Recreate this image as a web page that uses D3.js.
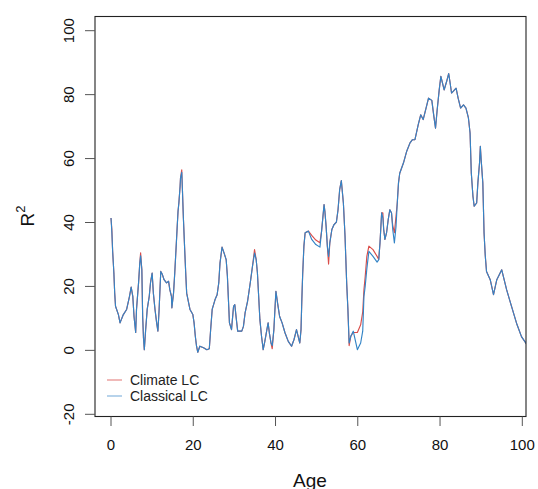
<!DOCTYPE html>
<html lang="en">
<head>
<meta charset="UTF-8">
<title>R2 by age</title>
<script src="https://d3js.org/d3.v7.min.js"></script>
<style>
  body { margin: 0; background: #fff; }
  svg { display: block; font-family: 'Liberation Sans', Arial, sans-serif; }
  .tick-label { font-size: 15px; fill: #111; }
  .axis-title { font-size: 19px; fill: #111; }
  .legend-text { font-size: 14px; fill: #222; }
</style>
</head>
<body>
<svg width="538" height="489"></svg>
<script>
// ages (irregular steps)
const ages = [0, 0.2, 0.4, 0.7, 0.9, 1.1, 1.8, 2.2, 3.0, 3.8, 4.5, 4.9, 5.3, 5.6, 6.0, 6.2, 6.7, 7.0, 7.2, 7.5,
  7.7, 7.9, 8.1, 8.4, 8.8, 9.3, 9.6, 10.0, 10.3, 10.7, 11.1, 11.4, 11.7, 12.1, 12.5, 12.9, 13.5, 14.0, 14.3, 14.7,
  14.8, 15.2, 15.5, 15.8, 16.1, 16.3, 16.5, 16.8, 16.9, 17.2, 17.35, 17.6, 17.9, 18.2, 18.4, 18.8, 19.2, 19.9, 20.2, 20.5,
  20.8, 21.1, 21.6, 22.5, 23.3, 23.9, 24.2, 24.6, 25.3, 25.8, 26.2, 26.5, 27.0, 27.5, 28.0, 28.3, 28.8, 29.3, 29.8, 30.1,
  30.4, 30.8, 31.8, 32.2, 32.6, 33.2, 33.9, 34.4, 34.9, 35.3, 35.6, 35.9, 36.2, 36.6, 37.0, 37.4, 37.9, 38.2, 38.5, 38.9,
  39.2, 39.6, 39.9, 40.1, 40.5, 41.0, 41.6, 42.3, 43.1, 43.9, 44.5, 45.1, 45.5, 45.9, 46.2, 46.4, 46.6, 46.9, 47.2, 48.0,
  48.8, 49.8, 50.8, 51.2, 51.8, 52.0, 52.3, 52.6, 52.9, 53.2, 53.7, 54.2, 54.8, 55.2, 55.6, 56.0, 56.5, 56.9, 57.3, 57.6,
  57.9, 58.3, 58.9, 59.9, 60.7, 61.2, 61.5, 61.8, 62.2, 62.7, 63.7, 64.7, 65.1, 65.4, 65.8, 66.1, 66.3, 66.6, 67.0, 67.4,
  67.8, 68.2, 68.5, 68.9, 69.3, 69.6, 69.9, 70.2, 71.1, 71.9, 72.7, 73.3, 73.9, 74.7, 75.3, 75.9, 76.6, 77.2, 78.0, 78.5,
  78.9, 79.3, 79.8, 80.2, 80.6, 81.0, 81.6, 82.1, 82.4, 82.8, 83.2, 83.9, 84.4, 85.0, 85.7, 86.3, 86.9, 87.3, 87.6, 88.0,
  88.3, 88.9, 89.2, 89.6, 89.8, 90.0, 90.4, 90.7, 91.0, 91.3, 92.2, 93.0, 93.8, 95.0, 96.2, 97.4, 98.6, 99.8, 101];

const classical = [41.4, 37.2, 31, 24.2, 17.9, 13.8, 11.2, 8.6, 11.2, 12.8, 16.9, 19.8, 16.9, 10.6, 5.6, 12.8, 21.1, 27.3, 29.6, 25.2,
  10.6, 3.9, 0.2, 6, 12.8, 16.9, 21.1, 24.2, 17.9, 12.8, 8.6, 6, 12.8, 24.7, 23.7, 22.1, 21.1, 21.6, 19, 16.9,
  13.3, 17.9, 24.2, 31.5, 38.8, 43.5, 46.1, 51.3, 53.9, 55.7, 50.8, 41.4, 32, 23.2, 17.9, 15.3, 12.8, 11.2, 8.6, 4.4,
  1.3, -0.6, 1.3, 0.8, 0.2, 0.5, 6, 12.8, 15.9, 17.4, 21.1, 27.3, 32.3, 30.4, 28.4, 23.2, 8.6, 6.5, 13.8, 14.3,
  10.6, 6, 6, 7.5, 11.7, 15.3, 21.5, 26.3, 30.4, 28.4, 24.2, 16.9, 9.6, 4.4, 0.2, 2.8, 6.5, 8.6, 5.5, 2.3,
  1.5, 6.5, 13.8, 18.5, 14.8, 10.6, 8.6, 5.5, 2.8, 1.3, 3.4, 6.5, 4.4, 2.3, 6.5, 15.9, 23.7, 32.6, 36.8, 37.3,
  34.7, 33.1, 32.3, 37.3, 45.6, 43.5, 38.8, 32.6, 29.4, 33.6, 37.8, 39.3, 40.1, 44.0, 50.3, 53.1, 46.1, 35.7, 21.1, 12.8,
  2.3, 4.4, 6.0, 0.2, 2.3, 6, 16.9, 20, 25.5, 31, 29.4, 27.6, 28.4, 33.6, 43, 41.4, 37.8, 34.7, 36.8, 40.9,
  44.0, 43, 37.8, 33.6, 38.8, 46.1, 52.4, 55.4, 58.6, 62.3, 64.9, 65.9, 65.9, 70.6, 73.7, 72.2, 75.8, 78.9, 78.2, 73.2,
  69.5, 75.2, 81.5, 85.7, 83.6, 81.5, 84.1, 86.6, 84.1, 80.5, 81, 82, 78.9, 75.8, 76.8, 75.8, 72.7, 68, 55.5, 48.2,
  45.1, 46.1, 52.4, 58.6, 63.8, 59.6, 52.4, 36.8, 29.5, 24.7, 22.1, 17.4, 22.1, 25.2, 18.9, 13.7, 8.5, 4.3, 2.0];

const climate = [41.4, 38, 31, 24.2, 17.9, 13.8, 11.2, 8.6, 11.2, 12.8, 16.9, 19.8, 16.9, 10.6, 5.6, 12.8, 21.1, 27.3, 30.5, 25.2,
  10.6, 3.9, 0.2, 6, 12.8, 16.9, 21.1, 24.2, 17.9, 12.8, 8.6, 6, 12.8, 24.7, 23.7, 22.1, 21.1, 21.6, 19, 16.9,
  13.3, 17.9, 24.2, 31.5, 38.8, 43.5, 46.1, 51.3, 53.9, 56.5, 50.8, 41.4, 32, 23.2, 17.9, 15.3, 12.8, 11.2, 8.6, 4.4,
  1.3, -0.6, 1.3, 0.8, 0.2, 0.5, 6, 12.8, 15.9, 17.4, 21.1, 27.3, 32.3, 30.4, 28.4, 23.2, 8.6, 6.5, 13.8, 14.3,
  10.6, 6, 6, 7.5, 11.7, 15.3, 21.5, 26.3, 31.5, 28.4, 24.2, 16.9, 9.6, 4.4, 0.2, 2.8, 6.5, 8.6, 5.5, 2.3,
  0.5, 6.5, 13.8, 18.5, 14.8, 10.6, 8.6, 5.5, 2.8, 1.3, 3.4, 6.5, 4.4, 2.3, 6.5, 15.9, 23.7, 32.6, 36.8, 37.3,
  36, 34.5, 33.7, 37.3, 45.6, 43.5, 38.8, 32.6, 27, 33.6, 37.8, 39.3, 40.1, 44.0, 50.3, 53.1, 46.1, 35.7, 21.1, 12.8,
  1.5, 4.4, 5.6, 5.6, 8, 12, 19, 23, 29.4, 32.6, 31.5, 29.4, 28.4, 33.6, 43, 43, 37.8, 34.7, 36.8, 40.9,
  44.0, 43, 39, 36.8, 42, 46.1, 52.4, 55.4, 58.6, 62.3, 64.9, 65.9, 65.9, 70.6, 73.7, 72.2, 75.8, 78.9, 78.2, 73.2,
  69.5, 75.2, 81.5, 85.7, 83.6, 81.5, 84.1, 86.6, 84.1, 80.5, 81, 82, 78.9, 75.8, 76.8, 75.8, 72.7, 68, 55.5, 48.2,
  45.1, 46.1, 52.4, 58.6, 63.8, 59.6, 52.4, 36.8, 29.5, 24.7, 22.1, 17.4, 22.1, 25.2, 18.9, 13.7, 8.5, 4.3, 2.0];

const xTicks = [0, 20, 40, 60, 80, 100];
const yTicks = [-20, 0, 20, 40, 60, 80, 100];
const seriesNames = ["Climate LC", "Classical LC"];
const seriesColors = ["#d63a36", "#3384c6"];

const svg = d3.select("svg");
const box = { left: 95, right: 526, top: 16.5, bottom: 416.5 };

const x = d3.scaleLinear().domain([0, 100]).range([111, 522.3]);
const y = d3.scaleLinear().domain([-20, 100]).range([414.3, 30.7]);

svg.append("clipPath").attr("id", "plotclip")
  .append("rect")
  .attr("x", box.left).attr("y", box.top)
  .attr("width", box.right - box.left).attr("height", box.bottom - box.top);

const line = d3.line()
  .x((d, i) => x(ages[i]))
  .y(d => y(d));

const gLines = svg.append("g").attr("clip-path", "url(#plotclip)");
[climate, classical].forEach((vals, i) => {
  gLines.append("path")
    .datum(vals)
    .attr("d", line)
    .attr("fill", "none")
    .attr("stroke", seriesColors[i])
    .attr("stroke-opacity", i == 0 ? 0.9 : 1)
    .attr("stroke-width", 1.15)
    .attr("stroke-linejoin", "round");
});

// box
svg.append("rect")
  .attr("x", box.left).attr("y", box.top)
  .attr("width", box.right - box.left).attr("height", box.bottom - box.top)
  .attr("fill", "none").attr("stroke", "#222").attr("stroke-width", 1.1);

// y axis ticks (R style)
const gy = svg.append("g");
gy.selectAll("line").data(yTicks).enter().append("line")
  .attr("x1", 85).attr("x2", box.left)
  .attr("y1", d => y(d)).attr("y2", d => y(d))
  .attr("stroke", "#555").attr("stroke-width", 1);
gy.selectAll("text").data(yTicks).enter().append("text")
  .attr("class", "tick-label")
  .attr("text-anchor", "middle")
  .attr("transform", d => `translate(74, ${y(d)}) rotate(-90)`)
  .text(d => d);

// x axis ticks
const gx = svg.append("g");
gx.selectAll("line").data(xTicks).enter().append("line")
  .attr("x1", d => x(d)).attr("x2", d => x(d))
  .attr("y1", box.bottom).attr("y2", 426)
  .attr("stroke", "#555").attr("stroke-width", 1);
gx.selectAll("text").data(xTicks).enter().append("text")
  .attr("class", "tick-label")
  .attr("text-anchor", "middle")
  .attr("x", d => x(d)).attr("y", 449.5)
  .text(d => d);

// axis titles
svg.append("text").attr("class", "axis-title")
  .attr("text-anchor", "middle")
  .attr("x", 310).attr("y", 487)
  .text("Age");

const yt = svg.append("text").attr("class", "axis-title")
  .attr("text-anchor", "middle")
  .attr("transform", "translate(34, 216) rotate(-90)");
yt.append("tspan").text("R");
yt.append("tspan").attr("dy", -9).attr("font-size", 13).text("2");

// legend
const legendY = [380, 396];
const gl = svg.append("g");
seriesNames.forEach((name, i) => {
  gl.append("line")
    .attr("x1", 107).attr("x2", 122)
    .attr("y1", legendY[i]).attr("y2", legendY[i])
    .attr("stroke", seriesColors[i]).attr("stroke-opacity", 0.55)
    .attr("stroke-width", 1.3);
  gl.append("text").attr("class", "legend-text")
    .attr("x", 130).attr("y", legendY[i] + 5)
    .text(name);
});
</script>
</body>
</html>
